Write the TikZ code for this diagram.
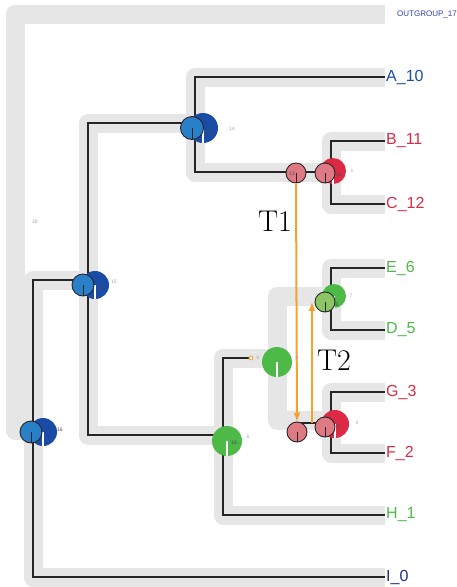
\documentclass[tikz,border=0pt]{standalone}
\usepackage{fontspec}
\newfontfamily\labfont{Liberation Sans}

\definecolor{bandgray}{HTML}{E6E6E6}
\definecolor{dblue}{HTML}{1A4BA5}
\definecolor{lblue}{HTML}{2A80C8}
\definecolor{pinkn}{HTML}{DF7A85}
\definecolor{redn}{HTML}{DC2A45}
\definecolor{greenn}{HTML}{4DBA48}
\definecolor{lgreen}{HTML}{8CC564}
\definecolor{orangen}{HTML}{F5A12E}
\definecolor{navy}{HTML}{1C2E8A}
\definecolor{outblue}{HTML}{2A40B0}

\tikzset{
  sband/.style={line width=19pt, color=bandgray, line join=round},
  gline/.style={line width=2.6pt, color=black!85},
  transfer/.style={line width=2pt, color=orangen, ->, >=latex},
  pie/.style={circle, inner sep=0pt, minimum size=#1pt},
  leaf/.style={anchor=west, inner sep=0pt, font=\labfont\fontsize{16}{16}\selectfont},
  num/.style={inner sep=0pt, font=\labfont\fontsize{5}{5}\selectfont},
}

\begin{document}
\begin{tikzpicture}[x=1pt,y=-1pt]
  \useasboundingbox (0,0) rectangle (457,587);
  % leaf ends
  \foreach \n/\y in {Out/14,A/77,B/141,C/204,E/268,D/330,G/392,F/453,H/515,I/577}
    \coordinate (t\n) at (385,\y);
  % inner nodes
  \coordinate (sRoot) at (15,430);
  \coordinate (n16) at (33,430);
  \coordinate (n15) at (88,280);
  \coordinate (n14) at (195,123);
  \coordinate (n12) at (331,172);
  \coordinate (n18) at (223,435);
  \coordinate (n9) at (277,358);
  \coordinate (n7) at (331,296);
  \coordinate (n4) at (331,420);
  \coordinate (nLoss) at (251,358);
  \coordinate (nT) at (297,423);
  \coordinate (nT2) at (312,423);

  % species tree
  \draw[sband] (tOut) -| (sRoot) -- (n16);
  \draw[sband] (n15) -| (n16) |- (tI);
  \draw[sband] (n14) -| (n15) |- (n18);
  \draw[sband] (tA) -| (n14) |- (n12);
  \draw[sband] (tB) -| (n12) |- (tC);
  \draw[sband] (n9) -| (n18) |- (tH);
  \draw[sband] (n7) -| (n9) |- (n4);
  \draw[sband] (tE) -| (n7) |- (tD);
  \draw[sband] (tG) -| (n4) |- (tF);

  % gene tree
  \draw[gline] (n15) -| (n16) |- (tI);
  \draw[gline] (n14) -| (n15) |- (n18);
  \draw[gline] (tA) -| (n14) |- (n12);
  \draw[gline] (tB) -| (n12) |- (tC);
  \draw[gline] (nLoss) -| (n18) |- (tH);
  \draw[gline] (tE) -| (n7) |- (tD);
  \draw[gline] (tG) -| (n4) |- (tF);
  \draw[gline] (nT) -- (nT -| n4);

  % events
  \foreach \n/\x/\y/\d/\c in {16/43/432/28/dblue, 15/95/285/28/dblue,
      14/203/128/30/dblue, 12/333/171/26/redn, 18/227/441/30/greenn,
      9/277/362/30/greenn, 8/334/296/24/greenn, 5/335/424/28/redn} {
    \node[pie=\d, fill=\c] (p\n) at (\x,\y) {};
    \draw[white, line width=1.2pt] (p\n.center) -- (p\n.south);
  }
  \foreach \n/\x/\y/\d/\c in {16/31/432/22/lblue, 15/83/285/22/lblue,
      14/192/128/23/lblue, 13/296/173/20/pinkn, 12/325/173/20/pinkn,
      8/325/302/20/lgreen, 5/325/427/20/pinkn, T/297/432/20/pinkn} {
    \node[pie=\d, fill=\c, draw=black!85, line width=0.9pt] (q\n) at (\x,\y) {};
    \draw[black!85, line width=1pt] (q\n.center) -- (q\n.south);
  }
  \node[pie=4, draw=orangen, fill=white, line width=0.8pt] (qLoss) at (nLoss) {};

  % transfers
  \draw[transfer] (q13.south) -- (qT.north);
  \draw[transfer] (nT2) -- (nT2 |- q8.west);
  \node[font=\fontsize{30}{30}\selectfont] (T1) at (275,221) {T1};
  \node[font=\fontsize{30}{30}\selectfont] (T2) at (334,360) {T2};

  % numbers
  \node[num, text=black!70] (k16) at (60,430) {16};
  \node[num, text=black!70] (k15) at (101,288) {15};
  \node[num, text=black!70] (k14) at (209,132) {14};
  \node[num, text=black!70] (k13) at (292,174) {13};
  \node[num, text=black!70] (k12) at (339,175) {12};
  \node[num, text=black!70] (k18) at (234,443) {18};
  \node[num, text=black!70] (k8) at (337,305) {8};
  \node[num, text=black!70] (k5) at (338,427) {5};
  \node[num, text=black!35] (m14) at (232,129) {14};
  \node[num, text=black!35] (m15) at (114,282) {15};
  \node[num, text=black!35] (m18) at (35,222) {18};
  \node[num, text=black!35] (m1) at (352,171) {1};
  \node[num, text=black!35] (m6) at (248,437) {6};
  \node[num, text=black!35] (m9) at (297,358) {9};
  \node[num, text=black!35] (m7) at (351,296) {7};
  \node[num, text=black!35] (m4) at (357,423) {4};
  \node[num, text=black!35] (m0) at (258,358) {0};

  % leaves
  \node[anchor=west, inner sep=0pt, font=\labfont\fontsize{8}{8}\selectfont, text=outblue]
    (lOut) at (397,14) {OUTGROUP\_17};
  \foreach \n/\c/\t in {A/dblue/A\_10, B/redn/B\_11, C/redn/C\_12, E/greenn/E\_6,
      D/greenn/D\_5, G/redn/G\_3, F/redn/F\_2, H/greenn/H\_1, I/navy/I\_0}
    \node[leaf, text=\c] (l\n) at ([xshift=1pt]t\n) {\t};
\end{tikzpicture}
\end{document}
